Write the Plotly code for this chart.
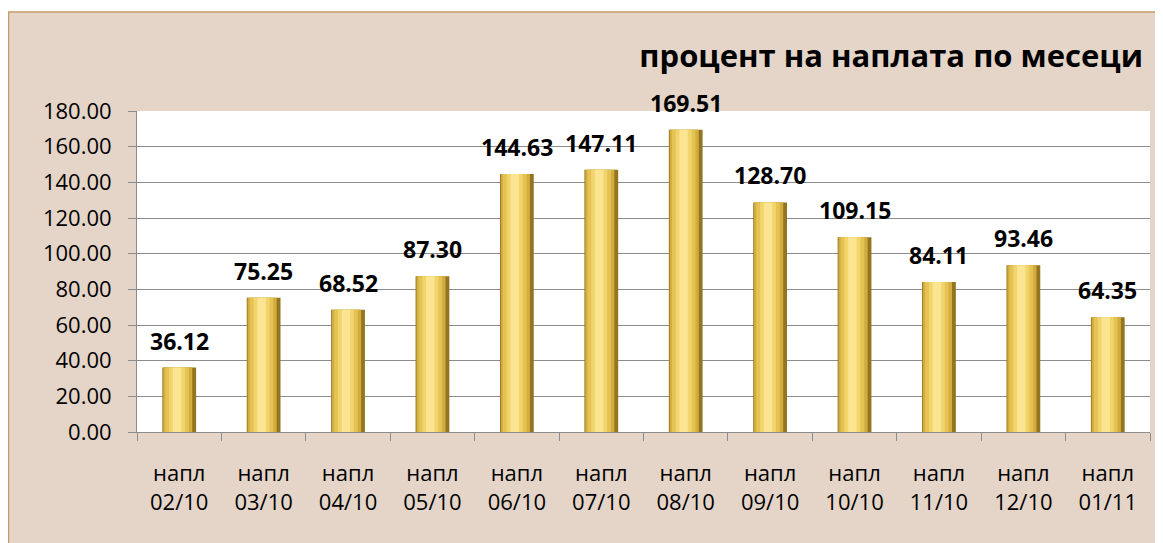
import plotly.graph_objects as go

months = ["02/10", "03/10", "04/10", "05/10", "06/10", "07/10",
          "08/10", "09/10", "10/10", "11/10", "12/10", "01/11"]
values = [36.12, 75.25, 68.52, 87.30, 144.63, 147.11,
          169.51, 128.70, 109.15, 84.11, 93.46, 64.35]
categories = ["напл<br>" + m for m in months]
title_text = "процент на наплата по месеци"

FONT = "Open Sans"

fig = go.Figure()

# layered bars to imitate the bevelled gold look
layers = [
    (-0.20, 0.40, "#93741f"),
    (-0.19, 0.345, "#d2ac3e"),
    (-0.165, 0.28, "#e4c253"),
    (-0.12, 0.19, "#f1d46c"),
    (-0.075, 0.10, "#fbe592"),
]
for i, (off, w, col) in enumerate(layers):
    fig.add_trace(go.Bar(
        x=categories, y=values, width=w, offset=off,
        marker=dict(color=col, line=dict(width=0)),
        hoverinfo="x+y" if i == 0 else "skip",
        showlegend=False,
    ))

for c, v in zip(categories, values):
    fig.add_annotation(x=c, y=v, text=f"{v:.2f}", showarrow=False,
                       yshift=27, font=dict(family=FONT, size=23, color="black",
                                             weight="bold"))

# page has an 8px body margin; figure coords = page coords - 8
W, H = 1155, 535
L, T = 129, 103
R = W - 1142
B = H - 424
pw, ph = W - L - R, H - T - B

def px(x):
    return (x - L) / pw

def py(y):
    return (H - B - y) / ph

fig.add_shape(type="rect", xref="paper", yref="paper",
              x0=px(-5), x1=px(1200), y0=py(4), y1=py(-5),
              fillcolor="white", line=dict(width=0), layer="above")
fig.add_shape(type="rect", xref="paper", yref="paper",
              x0=px(0.5), x1=px(1200), y0=py(600), y1=py(4),
              fillcolor="rgba(0,0,0,0)", line=dict(color="#c99b6c", width=1.5),
              layer="above")

fig.update_layout(
    width=W, height=H,
    margin=dict(l=L, r=R, t=T, b=B),
    paper_bgcolor="#e4d5c8",
    plot_bgcolor="white",
    barmode="overlay",
    font=dict(family=FONT, color="black"),
    title=dict(text=title_text, x=px(1135), xanchor="right", xref="paper",
               y=1 - 48 / H, yanchor="middle",
               font=dict(family=FONT, size=31, color="black", weight="bold")),
    showlegend=False,
)
fig.update_yaxes(range=[0, 180], dtick=20, tickformat=".2f",
                 showgrid=True, gridcolor="#8c8c8c", gridwidth=1,
                 showline=True, linecolor="#8c8c8c", linewidth=1,
                 ticks="outside", ticklen=8, tickcolor="#8c8c8c",
                 ticklabelstandoff=12,
                 tickfont=dict(family=FONT, size=22, color="black"),
                 zeroline=False)
fig.update_xaxes(showline=True, linecolor="#8c8c8c", linewidth=1,
                 ticks="outside", ticklen=8, tickcolor="#8c8c8c",
                 tickson="boundaries", ticklabelstandoff=22,
                 tickfont=dict(family=FONT, size=22, color="black"))

fig.write_html("out.html")
